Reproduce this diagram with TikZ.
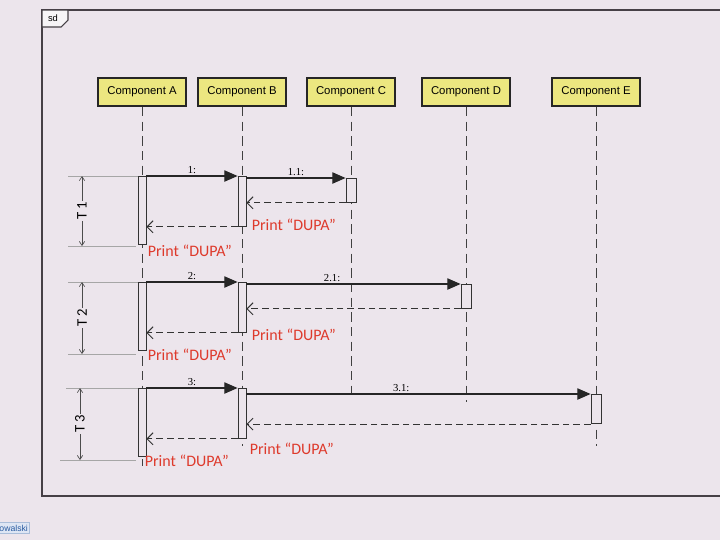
\documentclass[tikz,border=0pt]{standalone}
\usepackage{fontspec}
\setmainfont{Liberation Sans}
\newfontfamily\printfont{Carlito}
\newfontfamily\msgfont{Liberation Serif}
\usetikzlibrary{arrows.meta}

\definecolor{screenbg}{RGB}{236,229,236}
\definecolor{headfill}{RGB}{236,231,128}
\definecolor{printred}{RGB}{222,58,44}
\definecolor{framegray}{RGB}{70,64,70}
\definecolor{tagblue}{RGB}{40,90,160}
\definecolor{tagfill}{RGB}{222,230,244}

\tikzset{every picture/.style={line width=0.75pt}}
\tikzset{
  head/.style={draw=black!85, line width=1.5pt, fill=headfill, minimum width=66pt, minimum height=21pt, inner sep=2pt, font=\fontsize{8.5}{10}\selectfont},
  lifeline/.style={draw=black!75, dash pattern=on 7pt off 4pt, line width=0.6pt},
  actbar/.style={draw=black!80, fill=screenbg, line width=0.6pt, minimum width=6pt, inner sep=0pt},
  call/.style={draw=black!85, line width=1pt, -{Triangle[length=10pt,width=8.5pt]}},
  reply/.style={draw=black!80, line width=0.7pt, dash pattern=on 5pt off 3pt, -{Straight Barb[length=4.5pt,width=9pt]}},
  printlbl/.style={text=printred, font=\printfont\fontsize{12}{14}\selectfont, inner sep=1pt},
  msglbl/.style={font=\msgfont\fontsize{8}{9}\selectfont, inner sep=1.5pt},
  dimline/.style={draw=black!70, line width=0.5pt, {Straight Barb[length=3pt,width=4pt]}-{Straight Barb[length=3pt,width=4pt]}},
  dimlbl/.style={fill=screenbg, rotate=90, inner sep=1pt, font=\printfont\fontsize{11}{12}\selectfont},
  extline/.style={draw=black!35, line width=0.4pt},
}

\begin{document}
\begin{tikzpicture}[x=0.75pt,y=0.75pt,yscale=-1,xscale=1]
\useasboundingbox (0,0) rectangle (720,540);
\fill[screenbg] (0,0) rectangle (720,540);

%Frame
\draw[framegray, line width=0.8pt] (730,10) -- (42,10) -- (42,496) -- (730,496);
\draw[framegray, line width=0.8pt, fill=white!60!screenbg] (42,10) -- (68,10) -- (68,20) -- (61,27) -- (42,27) -- cycle;
% Text Node
\node[font=\fontsize{7}{8}\selectfont] (sdtag) at (53,18.5) {sd};

%Heads
\node[head] (compA) at (142,92) {Component A};
\node[head] (compB) at (242,92) {Component B};
\node[head] (compC) at (351,92) {Component C};
\node[head] (compD) at (466,92) {Component D};
\node[head] (compE) at (596,92) {Component E};

%Lifelines
\coordinate (endA) at (142,466);
\coordinate (endB) at (242,446);
\coordinate (endC) at (351,400);
\coordinate (endD) at (466,402);
\coordinate (endE) at (596,446);
\draw[lifeline] (compA.south) -- (endA);
\draw[lifeline] (compB.south) -- (endB);
\draw[lifeline] (compC.south) -- (endC);
\draw[lifeline] (compD.south) -- (endD);
\draw[lifeline] (compE.south) -- (endE);

%Block T 1
\node[actbar, minimum height=51pt, anchor=north] (actA1) at (142,176) {};
\node[actbar, minimum height=37.5pt, anchor=north] (actB1) at (242,176) {};
\node[actbar, minimum width=7.5pt, minimum height=18pt, anchor=north] (actC1) at (351,178) {};
\draw[call] (actA1.north east) -- node[msglbl, above] {1:} (actB1.north west);
\draw[call] (actB1.east |- actC1.north) -- node[msglbl, above] {1.1:} (actC1.north west);
\draw[reply] (actC1.south west) -- (actB1.east |- actC1.south);
\draw[reply] (actB1.south west) -- (actA1.east |- actB1.south);
% Text Node
\node[printlbl, anchor=west] (prC1) at (250,225) {Print “DUPA”};
\node[printlbl, anchor=west] (prA1) at (146,251) {Print “DUPA”};
%Dimension T 1
\coordinate (t1top) at (82,176);
\coordinate (t1bot) at (82,246);
\draw[extline] (68,176) -- (actA1.north west);
\draw[extline] (68,246) -- (136,246);
\draw[dimline] (t1top) -- node[dimlbl] {T 1} (t1bot);

%Block T 2
\node[actbar, minimum height=51pt, anchor=north] (actA2) at (142,282) {};
\node[actbar, minimum height=37.5pt, anchor=north] (actB2) at (242,282) {};
\node[actbar, minimum width=7.5pt, minimum height=18pt, anchor=north] (actD2) at (466,284) {};
\draw[call] (actA2.north east) -- node[msglbl, above] {2:} (actB2.north west);
\draw[call] (actB2.east |- actD2.north) -- node[msglbl, above, pos=0.4] {2.1:} (actD2.north west);
\draw[reply] (actD2.south west) -- (actB2.east |- actD2.south);
\draw[reply] (actB2.south west) -- (actA2.east |- actB2.south);
% Text Node
\node[printlbl, anchor=west] (prD2) at (250,335) {Print “DUPA”};
\node[printlbl, anchor=west] (prA2) at (146,355) {Print “DUPA”};
%Dimension T 2
\coordinate (t2top) at (82,282);
\coordinate (t2bot) at (82,354);
\draw[extline] (68,282) -- (actA2.north west);
\draw[extline] (68,354) -- (136,354);
\draw[dimline] (t2top) -- node[dimlbl] {T 2} (t2bot);

%Block T 3
\node[actbar, minimum height=51pt, anchor=north] (actA3) at (142,388) {};
\node[actbar, minimum height=37.5pt, anchor=north] (actB3) at (242,388) {};
\node[actbar, minimum width=7.5pt, minimum height=22pt, anchor=north] (actE3) at (596,394) {};
\draw[call] (actA3.north east) -- node[msglbl, above] {3:} (actB3.north west);
\draw[call] (actB3.east |- actE3.north) -- node[msglbl, above, pos=0.45] {3.1:} (actE3.north west);
\draw[reply] (actE3.south west) -- (actB3.east |- actE3.south);
\draw[reply] (actB3.south west) -- (actA3.east |- actB3.south);
% Text Node
\node[printlbl, anchor=west] (prE3) at (248,449) {Print “DUPA”};
\node[printlbl, anchor=west] (prA3) at (143,461) {Print “DUPA”};
%Dimension T 3
\coordinate (t3top) at (80,388);
\coordinate (t3bot) at (80,460);
\draw[extline] (66,388) -- (actA3.north west);
\draw[extline] (60,460) -- (136,460);
\draw[dimline] (t3top) -- node[dimlbl] {T 3} (t3bot);

%Name tag
\node[draw=tagblue!40, fill=tagfill, text=tagblue, anchor=west, inner sep=1.5pt, font=\fontsize{6.5}{8}\selectfont] (nametag) at (-3,528) {owalski};

\end{tikzpicture}
\end{document}
